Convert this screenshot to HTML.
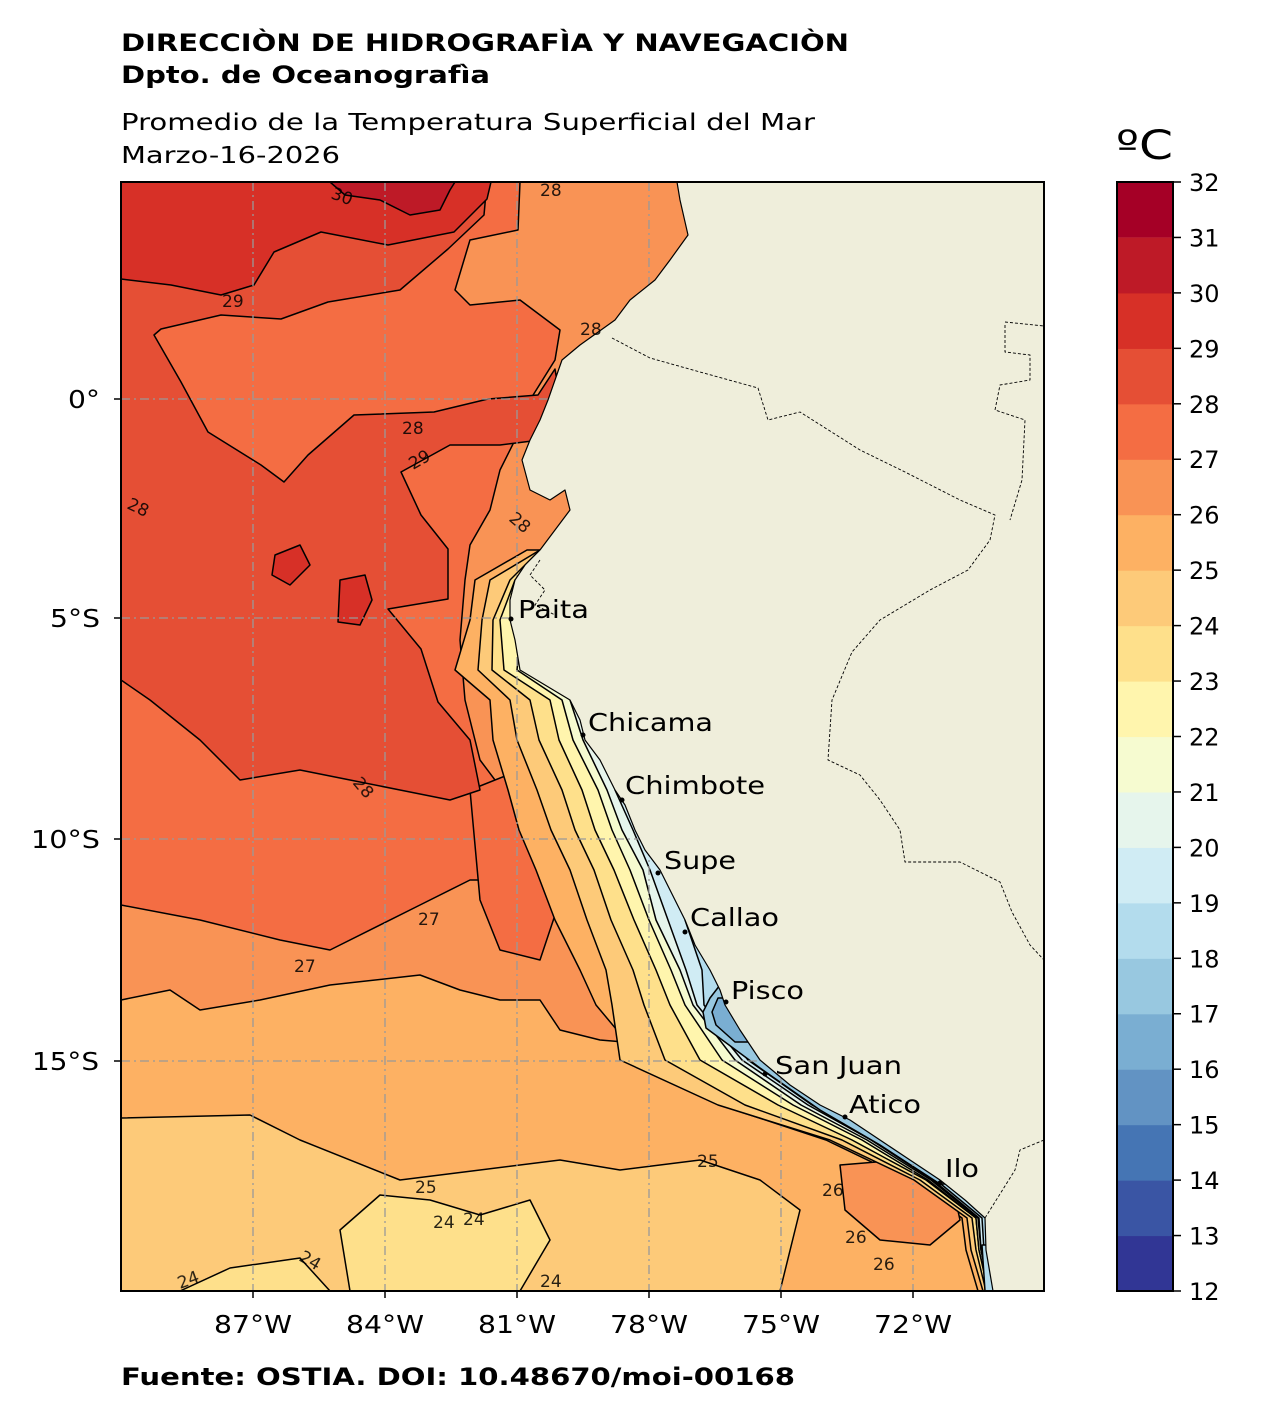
<!DOCTYPE html>
<html><head><meta charset="utf-8">
<style>
html,body{margin:0;padding:0;background:#fff;}
svg{display:block;font-family:"DejaVu Sans","Liberation Sans",sans-serif;}
</style></head>
<body>
<svg width="1268" height="1420" viewBox="0 0 1268 1420" xmlns="http://www.w3.org/2000/svg">
<defs><clipPath id="ax"><rect x="121" y="182" width="923" height="1109"/></clipPath></defs>
<rect width="1268" height="1420" fill="#fff"/>
<text x="121" y="51" font-size="24" font-weight="bold" textLength="728" lengthAdjust="spacingAndGlyphs">DIRECCIÒN DE HIDROGRAFÌA Y NAVEGACIÒN</text>
<text x="121" y="83" font-size="24" font-weight="bold" textLength="369" lengthAdjust="spacingAndGlyphs">Dpto. de Oceanografìa</text>
<text x="121" y="130" font-size="23" textLength="694" lengthAdjust="spacingAndGlyphs">Promedio de la Temperatura Superficial del Mar</text>
<text x="121" y="163" font-size="23" textLength="219" lengthAdjust="spacingAndGlyphs">Marzo-16-2026</text>
<text x="121" y="1385" font-size="24" font-weight="bold" textLength="674" lengthAdjust="spacingAndGlyphs">Fuente: OSTIA. DOI: 10.48670/moi-00168</text>
<g clip-path="url(#ax)" stroke="#000" stroke-width="1.5" stroke-linejoin="round">
<rect x="121" y="182" width="923" height="1109" fill="#fdca79" stroke="none"/>
<polygon fill="#fdb163" points="121,182 1044,182 1044,1291 780,1291 800,1210 760,1180 700,1160 620,1170 560,1160 480,1170 400,1180 300,1140 250,1115 121,1118"/>
<polygon fill="#fee08b" points="350,1291 340,1230 380,1195 430,1200 480,1215 530,1200 550,1240 520,1291"/>
<polygon fill="#fee08b" points="180,1291 230,1268 300,1258 330,1291"/>
<polygon fill="#f99355" points="121,182 1044,182 1044,1080 760,1080 660,1045 600,1040 560,1030 540,1000 500,1000 460,990 420,975 330,985 260,1000 200,1010 170,990 121,1000"/>
<polygon fill="#f46d43" points="121,182 520,182 518,230 470,240 455,290 470,305 520,300 560,330 555,360 530,400 520,430 500,470 490,510 470,545 465,580 460,640 465,700 480,760 510,800 520,850 500,880 470,880 420,905 330,950 280,940 200,920 121,905"/>
<polygon fill="#f46d43" points="470,790 520,770 545,790 540,850 560,900 540,960 500,950 480,900"/>
<polygon fill="#e54f35" points="121,182 487,182 484,215 448,249 400,290 328,302 281,319 221,315 161,329 154,335 181,382 208,432 261,465 284,482 308,455 354,415 434,412 488,399 538,395 555,369 560,400 540,440 500,445 450,445 401,472 421,515 448,549 448,599 388,609 421,649 438,702 470,740 480,790 450,800 400,790 350,780 300,770 240,780 200,740 150,700 121,680"/>
<polygon fill="#d73027" points="121,182 491,182 487,199 454,232 388,245 321,232 274,252 254,285 221,295 171,285 121,279"/>
<polygon fill="#be1a27" points="330,182 345,195 380,200 410,215 440,210 450,190 455,182"/>
<polygon fill="#d73027" points="275,555 300,545 310,565 290,585 272,575"/>
<polygon fill="#d73027" points="340,580 365,575 372,600 360,625 338,622"/>
<!-- coastal strips -->
<polygon fill="#fdb163" points="527,550 475,580 470,620 455,670 490,700 493,740 508,790 519,830 536,870 555,920 580,970 596,1005 642,1060 720,1105 826,1140 909,1180 962,1218 966,1250 978,1291 1044,1291 1044,550"/>
<polygon fill="#f99355" points="840,1165 900,1160 950,1175 960,1220 930,1245 880,1240 845,1210"/>
<polygon fill="#fdca79" points="540,550 490,580 482,620 478,670 510,700 517,740 537,790 551,830 570,870 587,920 606,970 612,1005 620,1060 718,1105 830,1140 914,1180 967,1218 971,1250 983,1291 1044,1291 1044,550"/>
<polygon fill="#fee08b" points="540,550 510,580 493,620 492,670 530,700 539,740 562,790 575,830 594,870 611,920 633,970 644,1005 665,1060 745,1105 842,1140 920,1180 972,1218 976,1250 986,1291 1044,1291 1044,550"/>
<polygon fill="#fff5ad" points="515,580 500,620 504,670 550,700 559,740 582,790 595,830 614,870 634,920 656,970 670,1005 700,1060 778,1105 852,1140 926,1180 976,1218 979,1250 988,1291 1044,1291 1044,580"/>
<polygon fill="#f6fbd0" points="520,640 517,670 562,700 573,740 598,790 612,830 630,870 649,920 671,970 685,1005 722,1060 793,1105 862,1140 928,1180 976,1218 979,1250 989,1291 1044,1291 1044,640"/>
<polygon fill="#e6f5ec" points="570,700 583,740 607,790 622,830 643,870 656,920 680,970 693,1005 735,1060 801,1105 867,1140 931,1180 978,1218 981,1250 990,1291 1044,1291 1044,700"/>
<polygon fill="#d0ecf4" points="615,790 633,830 650,870 668,920 686,970 697,1005 742,1060 808,1105 871,1140 933,1180 979,1218 981,1250 990,1291 1044,1291 1044,790"/>
<polygon fill="#b3dced" points="685,920 702,970 704,1005 748,1060 812,1105 874,1140 936,1180 982,1218 984,1250 991,1291 1044,1291 1044,920"/>
<polygon fill="#98c8e0" points="720,985 710,998 703,1012 706,1028 725,1042 760,1068 820,1110 880,1145 940,1184 1044,1184 1044,985"/>
<polygon fill="#7aaed2" points="718,998 712,1012 716,1025 735,1042 1044,1042 1044,998"/>
<polygon fill="#b3dced" points="982,1245 985,1291 1044,1291 1044,1245"/>
<g stroke="#999" stroke-width="1.3" stroke-dasharray="9,4,2,4" fill="none">
<line x1="253" y1="182" x2="253" y2="1291"/><line x1="385" y1="182" x2="385" y2="1291"/>
<line x1="517" y1="182" x2="517" y2="1291"/><line x1="649" y1="182" x2="649" y2="1291"/>
<line x1="781" y1="182" x2="781" y2="1291"/><line x1="913" y1="182" x2="913" y2="1291"/>
<line x1="121" y1="399" x2="1044" y2="399"/><line x1="121" y1="618" x2="1044" y2="618"/>
<line x1="121" y1="839" x2="1044" y2="839"/><line x1="121" y1="1061" x2="1044" y2="1061"/>
</g>
<path fill="#efeedb" stroke="#000" stroke-width="1.2" d="M1044,182 L677,182 L680,200 L688,235 L670,260 L655,280 L630,300 L615,320 L580,345 L562,360 L555,380 L548,400 L540,420 L530,440 L522,460 L530,490 L550,500 L565,490 L570,510 L555,530 L540,550 L525,565 L515,580 L510,600 L510,620 L515,640 L520,670 L545,685 L570,700 L580,720 L585,740 L600,760 L615,790 L625,805 L635,830 L645,850 L660,870 L670,890 L685,920 L695,945 L710,970 L720,990 L725,1005 L740,1030 L760,1060 L790,1085 L820,1105 L850,1120 L880,1140 L910,1160 L940,1180 L965,1200 L985,1218 L986,1250 L993,1291 L1044,1291 Z"/>
<g fill="none" stroke="#000" stroke-width="0.9" stroke-dasharray="3,2">
<polyline points="612,338 650,358 700,372 758,388 768,420 800,412 860,450 905,472 960,500 995,515 990,540 968,570 930,590 880,620 852,652 832,700 828,760 860,775 880,800 900,830 905,862 960,862 1000,882 1012,912 1030,945 1044,960"/>
<polyline points="1005,322 1044,326"/>
<polyline points="1005,325 1005,352 1030,355 1030,380 1000,385 995,410 1025,420 1022,480 1010,520"/>
<polyline points="1044,1140 1020,1150 1015,1170 985,1218"/>
<polyline points="540,560 530,575 545,590 535,605 555,615"/>
</g>
<g font-size="17" stroke="none" fill="#000" opacity="0.85">
<text x="330" y="198" transform="rotate(20 330 198)">30</text>
<text x="222" y="307">29</text><text x="402" y="434">28</text>
<text x="413" y="470" transform="rotate(-30 413 470)">29</text>
<text x="126" y="508" transform="rotate(25 126 508)">28</text>
<text x="352" y="783" transform="rotate(50 352 783)">28</text>
<text x="418" y="925">27</text><text x="294" y="972">27</text>
<text x="415" y="1193">25</text><text x="697" y="1167">25</text>
<text x="822" y="1196">26</text><text x="845" y="1243">26</text><text x="873" y="1270">26</text>
<text x="298" y="1260" transform="rotate(30 298 1260)">24</text>
<text x="433" y="1228">24</text><text x="463" y="1225">24</text><text x="540" y="1287">24</text>
<text x="180" y="1289" transform="rotate(-20 180 1289)">24</text>
<text x="540" y="196">28</text>
<text x="580" y="335">28</text>
<text x="508" y="520" transform="rotate(40 508 520)">28</text>
</g>
</g>
<rect x="121" y="182" width="923" height="1109" fill="none" stroke="#000" stroke-width="2"/>
<g font-size="25" fill="#000">
<text x="518" y="618" textLength="71" lengthAdjust="spacingAndGlyphs">Paita</text>
<text x="588" y="731" textLength="125" lengthAdjust="spacingAndGlyphs">Chicama</text>
<text x="625" y="794" textLength="140" lengthAdjust="spacingAndGlyphs">Chimbote</text>
<text x="664" y="869" textLength="72" lengthAdjust="spacingAndGlyphs">Supe</text>
<text x="690" y="926" textLength="89" lengthAdjust="spacingAndGlyphs">Callao</text>
<text x="731" y="999" textLength="73" lengthAdjust="spacingAndGlyphs">Pisco</text>
<text x="775" y="1074" textLength="127" lengthAdjust="spacingAndGlyphs">San Juan</text>
<text x="849" y="1113" textLength="72" lengthAdjust="spacingAndGlyphs">Atico</text>
<text x="945" y="1177" textLength="34" lengthAdjust="spacingAndGlyphs">Ilo</text>
<circle cx="511" cy="619" r="2.5"/><circle cx="583" cy="735" r="2.5"/><circle cx="622" cy="800" r="2.5"/>
<circle cx="658" cy="873" r="2.5"/><circle cx="685" cy="932" r="2.5"/><circle cx="726" cy="1002" r="2.5"/>
<circle cx="765" cy="1074" r="2.5"/><circle cx="845" cy="1117" r="2.5"/><circle cx="940" cy="1183" r="2.5"/>
</g>
<g font-size="25" fill="#000">
<text x="100" y="408" text-anchor="end" textLength="32" lengthAdjust="spacingAndGlyphs">0°</text>
<text x="100" y="627" text-anchor="end" textLength="50" lengthAdjust="spacingAndGlyphs">5°S</text>
<text x="100" y="848" text-anchor="end" textLength="69" lengthAdjust="spacingAndGlyphs">10°S</text>
<text x="99" y="1070" text-anchor="end" textLength="67" lengthAdjust="spacingAndGlyphs">15°S</text>
<text x="253" y="1333" text-anchor="middle" textLength="78" lengthAdjust="spacingAndGlyphs">87°W</text>
<text x="385" y="1333" text-anchor="middle" textLength="78" lengthAdjust="spacingAndGlyphs">84°W</text>
<text x="517" y="1333" text-anchor="middle" textLength="78" lengthAdjust="spacingAndGlyphs">81°W</text>
<text x="649" y="1333" text-anchor="middle" textLength="78" lengthAdjust="spacingAndGlyphs">78°W</text>
<text x="781" y="1333" text-anchor="middle" textLength="78" lengthAdjust="spacingAndGlyphs">75°W</text>
<text x="913" y="1333" text-anchor="middle" textLength="78" lengthAdjust="spacingAndGlyphs">72°W</text>
</g>
<g stroke="#000" stroke-width="1.5">
<line x1="114" y1="399" x2="121" y2="399"/><line x1="114" y1="618" x2="121" y2="618"/>
<line x1="114" y1="839" x2="121" y2="839"/><line x1="114" y1="1061" x2="121" y2="1061"/>
<line x1="253" y1="1291" x2="253" y2="1298"/><line x1="385" y1="1291" x2="385" y2="1298"/>
<line x1="517" y1="1291" x2="517" y2="1298"/><line x1="649" y1="1291" x2="649" y2="1298"/>
<line x1="781" y1="1291" x2="781" y2="1298"/><line x1="913" y1="1291" x2="913" y2="1298"/>
</g>
<text x="1116" y="159" font-size="40" textLength="57" lengthAdjust="spacingAndGlyphs">ºC</text>
<g stroke="none">
<rect x="1117" y="1235.55" width="56" height="56" fill="#313695"/>
<rect x="1117" y="1180.1" width="56" height="56" fill="#3a55a4"/>
<rect x="1117" y="1124.65" width="56" height="56" fill="#4575b4"/>
<rect x="1117" y="1069.2" width="56" height="56" fill="#6293c3"/>
<rect x="1117" y="1013.75" width="56" height="56" fill="#7aaed2"/>
<rect x="1117" y="958.3" width="56" height="56" fill="#98c8e0"/>
<rect x="1117" y="902.85" width="56" height="56" fill="#b3dced"/>
<rect x="1117" y="847.4" width="56" height="56" fill="#d0ecf4"/>
<rect x="1117" y="791.95" width="56" height="56" fill="#e6f5ec"/>
<rect x="1117" y="736.5" width="56" height="56" fill="#f6fbd0"/>
<rect x="1117" y="681.05" width="56" height="56" fill="#fff5ad"/>
<rect x="1117" y="625.6" width="56" height="56" fill="#fee08b"/>
<rect x="1117" y="570.15" width="56" height="56" fill="#fdca79"/>
<rect x="1117" y="514.7" width="56" height="56" fill="#fdb163"/>
<rect x="1117" y="459.25" width="56" height="56" fill="#f99355"/>
<rect x="1117" y="403.8" width="56" height="56" fill="#f46d43"/>
<rect x="1117" y="348.35" width="56" height="56" fill="#e54f35"/>
<rect x="1117" y="292.9" width="56" height="56" fill="#d73027"/>
<rect x="1117" y="237.45" width="56" height="56" fill="#be1a27"/>
<rect x="1117" y="182" width="56" height="55.45" fill="#a50026"/>
</g>
<rect x="1117" y="182" width="56" height="1109" fill="none" stroke="#000" stroke-width="2"/>
<g stroke="#000" stroke-width="1.5">
<line x1="1173" x2="1181" y1="1291" y2="1291"/><line x1="1173" x2="1181" y1="1235.55" y2="1235.55"/>
<line x1="1173" x2="1181" y1="1180.1" y2="1180.1"/><line x1="1173" x2="1181" y1="1124.65" y2="1124.65"/>
<line x1="1173" x2="1181" y1="1069.2" y2="1069.2"/><line x1="1173" x2="1181" y1="1013.75" y2="1013.75"/>
<line x1="1173" x2="1181" y1="958.3" y2="958.3"/><line x1="1173" x2="1181" y1="902.85" y2="902.85"/>
<line x1="1173" x2="1181" y1="847.4" y2="847.4"/><line x1="1173" x2="1181" y1="791.95" y2="791.95"/>
<line x1="1173" x2="1181" y1="736.5" y2="736.5"/><line x1="1173" x2="1181" y1="681.05" y2="681.05"/>
<line x1="1173" x2="1181" y1="625.6" y2="625.6"/><line x1="1173" x2="1181" y1="570.15" y2="570.15"/>
<line x1="1173" x2="1181" y1="514.7" y2="514.7"/><line x1="1173" x2="1181" y1="459.25" y2="459.25"/>
<line x1="1173" x2="1181" y1="403.8" y2="403.8"/><line x1="1173" x2="1181" y1="348.35" y2="348.35"/>
<line x1="1173" x2="1181" y1="292.9" y2="292.9"/><line x1="1173" x2="1181" y1="237.45" y2="237.45"/>
<line x1="1173" x2="1181" y1="182" y2="182"/>
</g>
<g font-size="24" fill="#000">
<text x="1189" y="1300">12</text><text x="1189" y="1244.5">13</text><text x="1189" y="1189">14</text>
<text x="1189" y="1133.6">15</text><text x="1189" y="1078.2">16</text><text x="1189" y="1022.7">17</text>
<text x="1189" y="967.3">18</text><text x="1189" y="911.8">19</text><text x="1189" y="856.4">20</text>
<text x="1189" y="801">21</text><text x="1189" y="745.5">22</text><text x="1189" y="690">23</text>
<text x="1189" y="634.6">24</text><text x="1189" y="579.1">25</text><text x="1189" y="523.7">26</text>
<text x="1189" y="468.2">27</text><text x="1189" y="412.8">28</text><text x="1189" y="357.3">29</text>
<text x="1189" y="301.9">30</text><text x="1189" y="246.4">31</text><text x="1189" y="191">32</text>
</g>
</svg>
</body></html>
